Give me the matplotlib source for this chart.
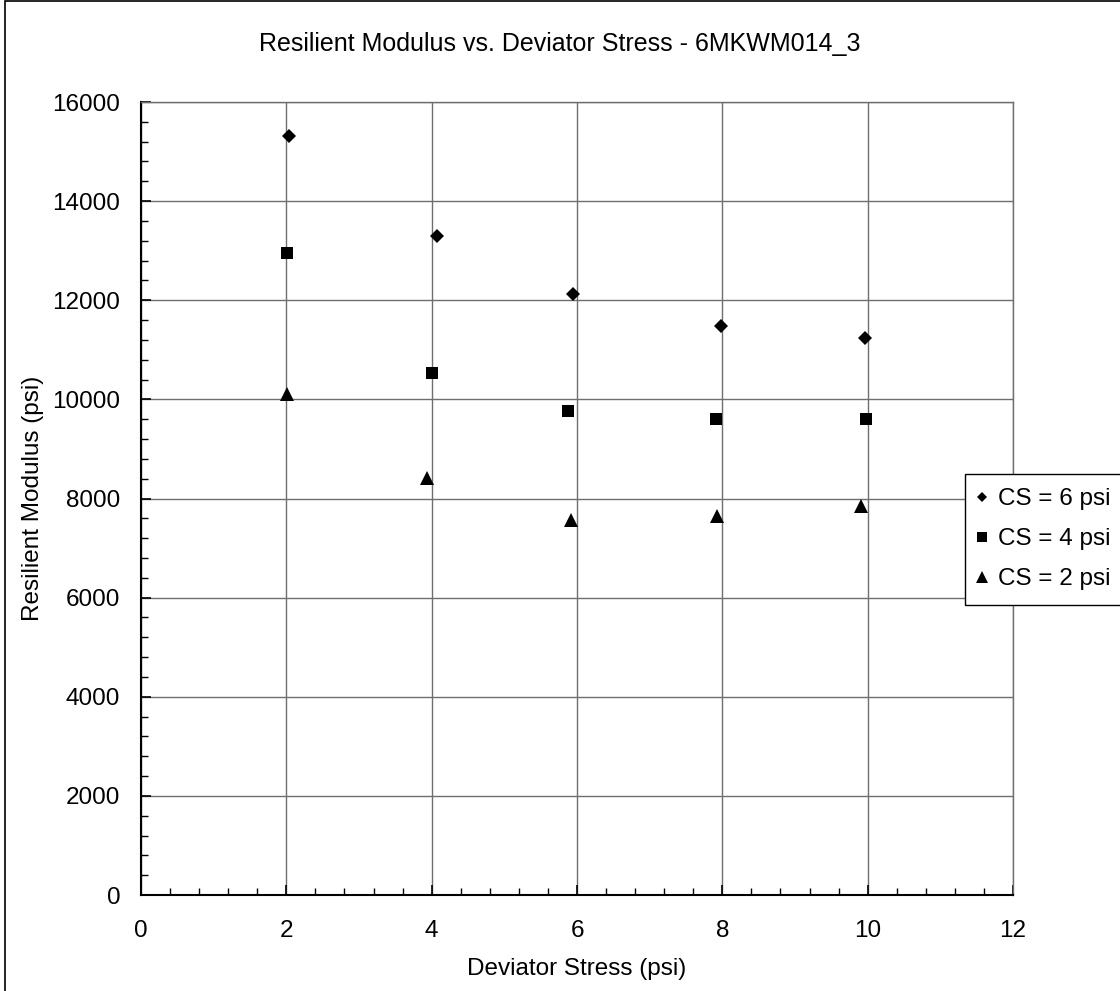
import matplotlib
matplotlib.use("Agg")
import matplotlib.pyplot as plt
from matplotlib.patches import Rectangle
from matplotlib.ticker import MultipleLocator

# Deviator stress (psi) and resilient modulus (psi) for each confining stress
dev_cs6 = [2.03, 4.07, 5.95, 7.98, 9.96]
mr_cs6 = [15320, 13300, 12130, 11480, 11240]
dev_cs4 = [2.01, 4.00, 5.88, 7.91, 9.98]
mr_cs4 = [12960, 10540, 9770, 9610, 9610]
dev_cs2 = [2.01, 3.93, 5.92, 7.93, 9.91]
mr_cs2 = [10110, 8410, 7570, 7650, 7850]

series_labels = ["CS = 6 psi", "CS = 4 psi", "CS = 2 psi"]
title = "Resilient Modulus vs. Deviator Stress - 6MKWM014_3"

plt.rcParams["font.family"] = ["Liberation Sans", "DejaVu Sans"]
FS = 17.5

W, H = 1120, 991
fig = plt.figure(figsize=(W / 100, H / 100), dpi=100)

# plot area in pixel coordinates
left, right, top, bottom = 141, 1013, 102, 895
ax = fig.add_axes([left / W, 1 - bottom / H, (right - left) / W, (bottom - top) / H])

# chart-area border
fig.patches.append(Rectangle((4.5 / W, -0.1), 2, 1.1 - 1.5 / H, transform=fig.transFigure,
                             fill=False, edgecolor="black", linewidth=1.2, zorder=0))

ax.plot(dev_cs6, mr_cs6, linestyle="none", marker="D", markersize=7.0, markeredgewidth=0,
        color="black", label=series_labels[0], zorder=3)
ax.plot(dev_cs4, mr_cs4, linestyle="none", marker="s", markersize=8.6, markeredgewidth=0,
        color="black", label=series_labels[1], zorder=3)
ax.plot(dev_cs2, mr_cs2, linestyle="none", marker="^", markersize=10.5, markeredgewidth=0,
        color="black", label=series_labels[2], zorder=3)

ax.set_xlim(0, 12)
ax.set_ylim(0, 16000)
ax.xaxis.set_major_locator(MultipleLocator(2))
ax.xaxis.set_minor_locator(MultipleLocator(0.4))
ax.yaxis.set_major_locator(MultipleLocator(2000))
ax.yaxis.set_minor_locator(MultipleLocator(400))

ax.grid(True, which="major", color="#6e6e6e", linewidth=1.0, zorder=1)
ax.set_axisbelow(True)

ax.tick_params(which="both", direction="in", colors="black", labelsize=FS)
ax.tick_params(which="major", length=7, width=1.2)
ax.tick_params(which="minor", length=5, width=1.0)
ax.tick_params(axis="x", which="major", pad=18)
ax.tick_params(axis="y", which="major", pad=15)

for side in ("left", "bottom"):
    ax.spines[side].set_color("black")
    ax.spines[side].set_linewidth(1.5)
for side in ("top", "right"):
    ax.spines[side].set_color("#6e6e6e")
    ax.spines[side].set_linewidth(1.0)

ax.set_xlabel("Deviator Stress (psi)", fontsize=FS)
ax.set_ylabel("Resilient Modulus (psi)", fontsize=FS)
ax.xaxis.set_label_coords(0.5, -(969 - bottom) / (bottom - top), transform=ax.transAxes)
ax.yaxis.set_label_coords(-(left - 33) / (right - left), 0.5, transform=ax.transAxes)
ax.xaxis.label.set_va("center")
ax.yaxis.label.set_va("center")

fig.text(0.5, 1 - 44 / H, title, ha="center", va="center", fontsize=18)

leg = fig.legend(loc="upper left", bbox_to_anchor=(965 / W, 1 - 474 / H),
                 bbox_transform=fig.transFigure, borderaxespad=0, fontsize=FS,
                 frameon=True, fancybox=False, edgecolor="black", framealpha=1,
                 handlelength=0.21, handletextpad=0.55, borderpad=0.59, labelspacing=0.74,
                 numpoints=1, markerscale=0.8)
leg.get_frame().set_linewidth(1.0)

fig.savefig("out.png", dpi=100)
